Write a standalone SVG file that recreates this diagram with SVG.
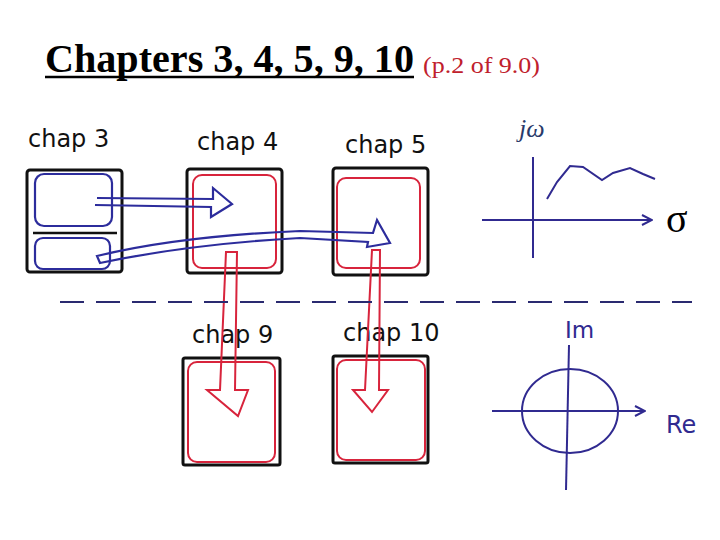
<svg xmlns="http://www.w3.org/2000/svg" width="720" height="540" viewBox="0 0 720 540">
<defs>
<style>
.hand{font-family:"DejaVu Sans","Liberation Sans",sans-serif;font-size:24px;fill:#111}
.outer{fill:none;stroke:#111;stroke-width:3}
.red{fill:none;stroke:#d8243c;stroke-width:2}
.blue{fill:none;stroke:#2c2c9c;stroke-width:2.2}
.ax{fill:none;stroke:#302a90;stroke-width:2}
</style>
<marker id="open" viewBox="0 0 12 12" refX="11" refY="6" markerWidth="12" markerHeight="12" markerUnits="userSpaceOnUse" orient="auto">
<path d="M1,1 L11,6 L1,11" fill="none" stroke="#302a90" stroke-width="2"/>
</marker>
</defs>
<rect width="720" height="540" fill="#fff"/>
<g id="title">
<text x="45" y="72" font-family="Liberation Serif,serif" font-weight="bold" font-size="40" fill="#000" textLength="369" lengthAdjust="spacingAndGlyphs">Chapters 3, 4, 5, 9, 10</text>
<line x1="45" y1="77" x2="414" y2="77" stroke="#000" stroke-width="2.5"/>
<text x="423" y="73" font-family="Liberation Serif,serif" font-size="23" fill="#c0202c" textLength="117" lengthAdjust="spacingAndGlyphs">(p.2 of 9.0)</text>
</g>
<g id="chap3">
<text class="hand" x="28" y="147">chap 3</text>
<rect class="outer" x="27" y="170" width="95" height="102" rx="3"/>
<line x1="33" y1="233" x2="117" y2="233" stroke="#111" stroke-width="2.5"/>
<rect class="blue" x="35" y="174" width="77" height="52" rx="9"/>
<rect class="blue" x="35" y="238" width="75" height="31" rx="8"/>
</g>
<g id="chap4">
<text class="hand" x="197" y="150">chap 4</text>
<rect class="outer" x="187" y="169" width="95" height="104" rx="3"/>
<rect class="red" x="193" y="175" width="83" height="93" rx="9"/>
</g>
<g id="chap5">
<text class="hand" x="345" y="153">chap 5</text>
<rect class="outer" x="333" y="168" width="95" height="107" rx="3"/>
<rect class="red" x="337" y="178" width="83" height="90" rx="9"/>
</g>
<g id="chap9">
<text class="hand" x="192" y="343">chap 9</text>
<rect class="outer" x="183" y="358" width="97" height="107" rx="2"/>
<rect class="red" x="188" y="362" width="87" height="100" rx="9"/>
</g>
<g id="chap10">
<text class="hand" x="343" y="341">chap 10</text>
<rect class="outer" x="333" y="356" width="95" height="107" rx="2"/>
<rect class="red" x="337" y="360" width="88" height="100" rx="9"/>
</g>
<g id="connectors">
<path class="blue" d="M97,198 L213,199 L213,188 L232,204 L211,217 L211,207 L95,205"/>
<path class="blue" d="M97,256 Q180,236 300,231 L373,233 L377,220 L390,243 L367,247 L368,242 L300,238 Q190,244 100,263 Z"/>
<path class="red" d="M226,252 L237,252 L235,390 L248,390 L238,416 L207,390 L220,390 Z"/>
<path class="red" d="M372,250 L380,250 L379,390 L388,390 L372,412 L353,390 L365,390 Z"/>
</g>
<g id="divider">
<line x1="60" y1="302" x2="692" y2="302" stroke="#2a2a70" stroke-width="2" stroke-dasharray="24,12"/>
</g>
<g id="s-plane">
<text x="519" y="137" font-family="Liberation Serif,serif" font-style="italic" font-size="26" fill="#2a3a6a">jω</text>
<line class="ax" x1="533" y1="157" x2="533" y2="258"/>
<line class="ax" x1="482" y1="220" x2="652" y2="220" marker-end="url(#open)"/>
<path class="ax" d="M547,199 L557,182 L570,166 L583,167 L602,180 L613,173 L630,168 L643,174 L655,179"/>
<text x="666" y="232" font-family="Liberation Serif,serif" font-size="40" fill="#000">σ</text>
</g>
<g id="z-plane">
<text x="565" y="338" font-family="DejaVu Sans,sans-serif" font-size="23" fill="#302a90">Im</text>
<line class="ax" x1="569" y1="345" x2="566" y2="490"/>
<line class="ax" x1="492" y1="411" x2="645" y2="411" marker-end="url(#open)"/>
<ellipse class="ax" cx="570" cy="411" rx="48" ry="42"/>
<text x="666" y="433" font-family="DejaVu Sans,sans-serif" font-size="24" fill="#302a90">Re</text>
</g>
</svg>
